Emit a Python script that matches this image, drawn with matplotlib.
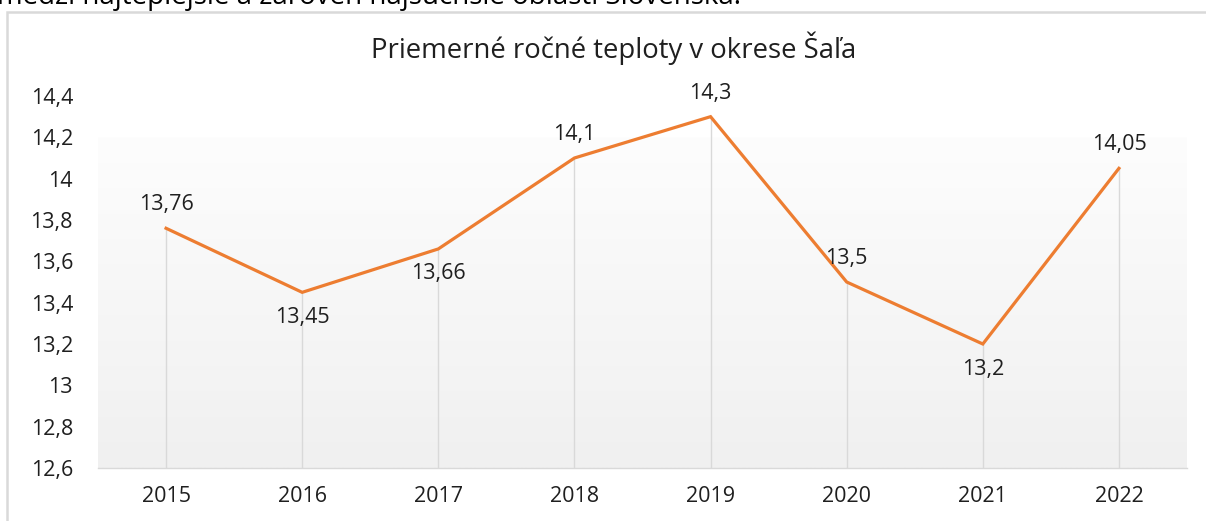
import matplotlib
matplotlib.use("Agg")
import matplotlib.pyplot as plt
import numpy as np
from matplotlib.patches import Rectangle

plt.rcParams['font.family'] = ['Open Sans', 'DejaVu Sans']

years = ['2015', '2016', '2017', '2018', '2019', '2020', '2021', '2022']
temps = [13.76, 13.45, 13.66, 14.1, 14.3, 13.5, 13.2, 14.05]
temp_labels = ['13,76', '13,45', '13,66', '14,1', '14,3', '13,5', '13,2', '14,05']
label_above = [True, False, False, True, True, True, False, True]
y_ticks = [12.6, 12.8, 13.0, 13.2, 13.4, 13.6, 13.8, 14.0, 14.2, 14.4]
y_tick_labels = ['12,6', '12,8', '13', '13,2', '13,4', '13,6', '13,8', '14', '14,2', '14,4']

W, H = 1206, 521
fig = plt.figure(figsize=(W / 100, H / 100), dpi=100)
fig.patch.set_facecolor('white')

# chart frame (extends past the right and bottom edges)
fig.patches.append(Rectangle((7 / W, -0.1), 1.2, (H - 12) / H + 0.1,
                             transform=fig.transFigure, fill=False,
                             edgecolor='#d9d9d9', linewidth=1.8, zorder=0))

# partly visible line of body text above the chart
fig.text(-3 / W, 1 - 4 / H,
         'medzi najteplejšie a zároveň najsuchšie oblasti Slovenska.',
         fontsize=20, color='#000000', ha='left', va='baseline')

left, right = 98 / W, 1187 / W
bottom, top = (H - 468) / H, (H - 96) / H
ax = fig.add_axes([left, bottom, right - left, top - bottom])
ax.set_facecolor('none')

x = np.arange(len(years))
ax.set_xlim(-0.5, len(years) - 0.5)
ax.set_ylim(12.6, 14.4)

# plot-area gradient fill
grad = np.linspace(0, 1, 256).reshape(-1, 1)
top_c = np.array([0xfd, 0xfd, 0xfd]) / 255
bot_c = np.array([0xf0, 0xf0, 0xf0]) / 255
img = top_c + (bot_c - top_c) * grad
ax.imshow(img[:, None, :].repeat(2, axis=1), extent=(-0.5, len(years) - 0.5, 12.6, 14.2),
          aspect='auto', origin='upper', zorder=0, interpolation='bilinear')

# drop lines
ax.vlines(x, 12.6, temps, color='#d9d9d9', linewidth=1.0, zorder=1)

ax.plot(x, temps, color='#ED7D31', linewidth=2.3, zorder=3, solid_joinstyle='miter')

for xi, v, lab, above in zip(x, temps, temp_labels, label_above):
    off = 17 if above else -18
    ax.annotate(lab, (xi, v), xytext=(0, off), textcoords='offset points',
                ha='center', va='center',
                fontsize=15.5, color='#1f1f1f', zorder=4)

for s in ['left', 'right', 'top']:
    ax.spines[s].set_visible(False)
ax.spines['bottom'].set_color('#d9d9d9')
ax.spines['bottom'].set_linewidth(1.0)
ax.spines['bottom'].set_zorder(2)

ax.set_xticks(x)
ax.set_xticklabels(years, fontsize=15.5, color='#1f1f1f')
ax.set_yticks(y_ticks)
ax.set_yticklabels(y_tick_labels, fontsize=15.5, color='#1f1f1f')
ax.tick_params(axis='both', length=0)
ax.tick_params(axis='x', pad=13)
ax.tick_params(axis='y', pad=18)

fig.text(614 / W, 1 - 48 / H, 'Priemerné ročné teploty v okrese Šaľa',
         fontsize=19.8, color='#1f1f1f', ha='center', va='center')

fig.savefig('out.png', dpi=100)
